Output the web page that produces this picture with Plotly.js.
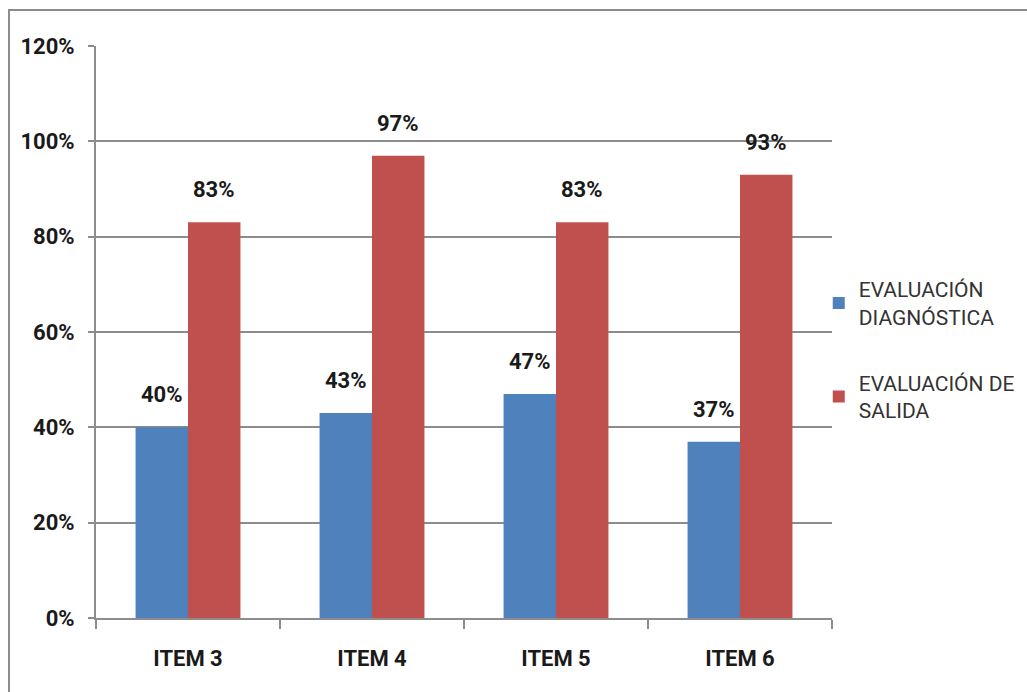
<!DOCTYPE html>
<html>
<head>
<meta charset="utf-8">
<script src="https://cdn.plot.ly/plotly-3.0.1.min.js"></script>
<style>
  html, body { margin: 0; padding: 0; background: #ffffff; }
  #wrap { position: relative; width: 1027px; height: 692px; overflow: hidden; }
  #frame { position: absolute; left: 8px; top: 9px; width: 1100px; height: 800px; border: 2px solid #8c8c8c; box-sizing: border-box; pointer-events: none; }
  #chart { position: absolute; left: 0; top: 0; width: 1027px; height: 692px; }
</style>
</head>
<body>
<div id="wrap">
  <div id="chart"></div>
  <div id="frame"></div>
</div>
<script>
const categories = ["ITEM 3", "ITEM 4", "ITEM 5", "ITEM 6"];
const seriesNames = ["EVALUACIÓN<br>DIAGNÓSTICA", "EVALUACIÓN DE<br>SALIDA"];
const diagnostica = [40, 43, 47, 37];
const salida = [83, 97, 83, 93];
const yTickVals = [0, 20, 40, 60, 80, 100, 120];
const yTickText = ["0%", "20%", "40%", "60%", "80%", "100%", "120%"];

const FONT = "Roboto, 'Noto Sans', sans-serif";
const BLUE = "#4F81BD";
const RED = "#C0504D";

const traces = [
  { type: "bar", name: seriesNames[0], legendgroup: "g1", x: categories, y: diagnostica, marker: { color: BLUE }, hoverinfo: "none" },
  { type: "bar", name: seriesNames[1], legendgroup: "g2", x: categories, y: salida, marker: { color: RED }, hoverinfo: "none" }
];

const annotations = [];
const series = [diagnostica, salida];
series.forEach((vals, si) => {
  vals.forEach((v, i) => {
    annotations.push({
      x: categories[i], y: v, xref: "x", yref: "y",
      text: "<b>" + v + "%</b>", showarrow: false,
      xanchor: "center", yanchor: "bottom",
      xshift: si === 0 ? -26 : 26, yshift: 18,
      font: { family: FONT, size: 22, color: "#1a1a1a" }
    });
  });
});

const layout = {
  width: 1027, height: 692,
  margin: { l: 96, r: 195, t: 46, b: 74, pad: 0, autoexpand: false },
  paper_bgcolor: "rgba(0,0,0,0)", plot_bgcolor: "#ffffff",
  barmode: "group", bargap: 0.43, bargroupgap: 0,
  font: { family: FONT, color: "#1a1a1a" },
  showlegend: true,
  legend: {
    x: 0.982, y: 0.61, xanchor: "left", yanchor: "top",
    traceorder: "grouped",
    font: { family: FONT, size: 21, color: "#333333" },
    tracegroupgap: 36, itemwidth: 30, bgcolor: "rgba(0,0,0,0)"
  },
  xaxis: {
    type: "category", showgrid: false, showline: true, linecolor: "#8c8c8c", linewidth: 2,
    ticks: "outside", tickson: "boundaries", ticklen: 9, tickcolor: "#8c8c8c", tickwidth: 2,
    ticklabelstandoff: 20,
    tickfont: { family: FONT, size: 22, color: "#1a1a1a", weight: "bold" },
    fixedrange: true
  },
  yaxis: {
    range: [0, 120], tickvals: yTickVals, ticktext: yTickText,
    showgrid: true, gridcolor: "#8c8c8c", gridwidth: 2,
    showline: true, linecolor: "#8c8c8c", linewidth: 2, zeroline: false,
    ticks: "outside", ticklen: 6, tickcolor: "#8c8c8c", tickwidth: 2,
    ticklabelstandoff: 9,
    tickfont: { family: FONT, size: 22, color: "#1a1a1a", weight: "bold" },
    fixedrange: true
  },
  annotations: annotations
};

Plotly.newPlot("chart", traces, layout, { displayModeBar: false, staticPlot: true });
</script>
</body>
</html>
